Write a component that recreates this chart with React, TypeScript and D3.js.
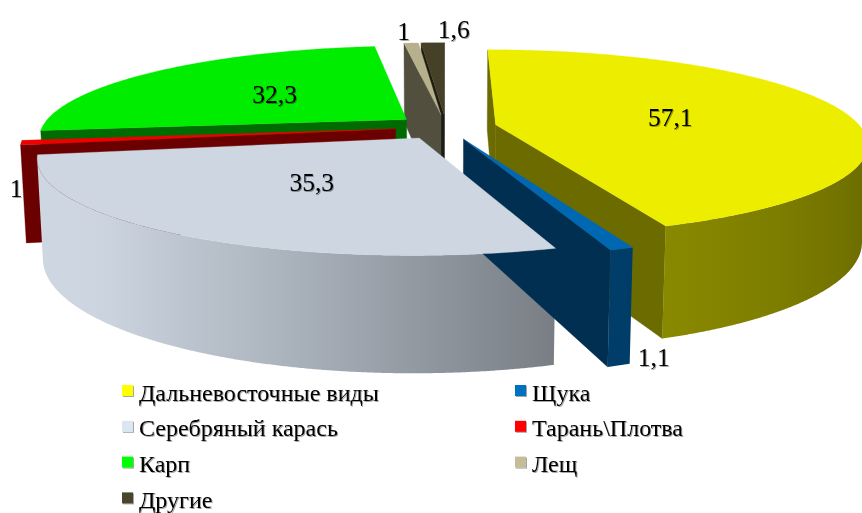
import React from "react";
import * as d3 from "d3";

// ---------- data ----------
const categories = [
  "Дальневосточные виды",
  "Щука",
  "Серебряный карась",
  "Тарань\\Плотва",
  "Карп",
  "Лещ",
  "Другие",
];
const values = [57.1, 1.1, 35.3, 1, 32.3, 1, 1.6];
const colors = ["#FFFF00", "#0070C0", "#DCE6F2", "#FF0000", "#00FF00", "#C4BD97", "#4A452A"];
const legendRows = [
  [0, 1],
  [2, 3],
  [4, 5],
  [6],
];

// ---------- layout / camera ----------
const W = 862;
const H = 513;
const CX = 446;
const CY = 127;
const FOCAL = 1847;
const DIST = 5.06;
const PHI = (14.3 * Math.PI) / 180;
const THICK = 0.271;
const EXPLODE = 0.139;
const sinP = Math.sin(PHI);
const cosP = Math.cos(PHI);
const CAM = [0, DIST * sinP, DIST * cosP];

const FONT = "'Liberation Serif', 'Times New Roman', 'DejaVu Serif', serif";

type V3 = [number, number, number];

function proj(p: V3): [number, number] {
  const [X, Y, Z] = p;
  const depth = DIST - Y * sinP - Z * cosP;
  const up = Y * cosP - Z * sinP;
  return [CX + (FOCAL * X) / depth, CY - (FOCAL * up) / depth];
}
function depthOf(p: V3) {
  return DIST - p[1] * sinP - p[2] * cosP;
}
function visible(n: V3, p: V3) {
  return n[0] * (CAM[0] - p[0]) + n[1] * (CAM[1] - p[1]) + n[2] * (CAM[2] - p[2]) > 0;
}
function shade(c: string, k: number) {
  const r = d3.rgb(c);
  return d3.rgb(Math.min(255, r.r * k), Math.min(255, r.g * k), Math.min(255, r.b * k)).formatHex();
}
function wallBrightness(theta: number) {
  const nx = Math.sin(theta);
  const nz = -Math.cos(theta);
  const d = -nx + 0.3 * nz;
  return Math.min(0.93, 0.55 + 0.15 * d + 0.25 * Math.max(d, 0));
}
const pathOf = (pts: [number, number][]) =>
  "M" + pts.map((p) => p[0].toFixed(2) + "," + p[1].toFixed(2)).join("L") + "Z";

const fmt = d3
  .formatLocale({ decimal: ",", thousands: "\u00a0", grouping: [3], currency: ["", ""] })
  .format("~g");

// label nudges for small slices (screen px)
const smallNudge: Record<number, [number, number]> = {
  1: [35, 1],
  3: [-8, 5],
  5: [-7.5, -3],
  6: [21, -5],
};

export default function App() {
  const arcs = d3
    .pie<number>()
    .sort(null)
    .value((d) => d)
    .startAngle(0)
    .endAngle(2 * Math.PI)(values);

  const slices = arcs.map((a, i) => {
    const am = (a.startAngle + a.endAngle) / 2;
    const ox = EXPLODE * Math.sin(am);
    const oz = -EXPLODE * Math.cos(am);
    const P = (r: number, th: number, Y: number): V3 => [ox + r * Math.sin(th), Y, oz - r * Math.cos(th)];
    return { i, a0: a.startAngle, a1: a.endAngle, am, P, value: values[i] };
  });

  const order = [...slices].sort(
    (s, t) => depthOf(t.P(0.5, t.am, -THICK / 2)) - depthOf(s.P(0.5, s.am, -THICK / 2))
  );

  const defs: React.ReactNode[] = [];
  const sides: React.ReactNode[] = [];
  const tops: React.ReactNode[] = [];

  order.forEach((s) => {
    const base = colors[s.i];
    const faceCol = shade(base, 0.42);
    // radial faces
    const radial = [
      { n: [-Math.cos(s.a0), 0, -Math.sin(s.a0)] as V3, ang: s.a0, key: "s" },
      { n: [Math.cos(s.a1), 0, Math.sin(s.a1)] as V3, ang: s.a1, key: "e" },
    ];
    radial.forEach((f) => {
      if (visible(f.n, s.P(0.5, f.ang, -THICK / 2))) {
        const pts = [
          proj(s.P(0, f.ang, 0)),
          proj(s.P(1, f.ang, 0)),
          proj(s.P(1, f.ang, -THICK)),
          proj(s.P(0, f.ang, -THICK)),
        ];
        sides.push(
          <path key={`r${s.i}${f.key}`} d={pathOf(pts)} fill={faceCol} stroke={faceCol} strokeWidth={0.4} />
        );
      }
    });
    // outer wall
    const steps = Math.max(4, Math.ceil((s.a1 - s.a0) / ((0.25 * Math.PI) / 180)));
    const ths = d3.range(steps + 1).map((k) => s.a0 + ((s.a1 - s.a0) * k) / steps);
    const vis = ths.filter((th) =>
      visible([Math.sin(th), 0, -Math.cos(th)], s.P(1, th, -THICK / 2))
    );
    if (vis.length > 1) {
      const topPts = vis.map((th) => proj(s.P(1, th, 0)));
      const botPts = vis.map((th) => proj(s.P(1, th, -THICK))).reverse();
      const x1 = topPts[0][0];
      const x2 = topPts[topPts.length - 1][0];
      const gid = `wall${s.i}`;
      const nStops = 12;
      const stops = d3.range(nStops + 1).map((k) => {
        const idx = Math.round(((vis.length - 1) * k) / nStops);
        const th = vis[idx];
        const x = topPts[idx][0];
        const off = Math.abs(x2 - x1) < 0.5 ? k / nStops : (x - x1) / (x2 - x1);
        return { off: Math.max(0, Math.min(1, off)), col: shade(base, wallBrightness(th)) };
      });
      defs.push(
        <linearGradient key={gid} id={gid} gradientUnits="userSpaceOnUse" x1={x1} y1={0} x2={Math.abs(x2 - x1) < 0.5 ? x1 + 1 : x2} y2={0}>
          {stops.map((st, k) => (
            <stop key={k} offset={st.off} stopColor={st.col} />
          ))}
        </linearGradient>
      );
      sides.push(
        <path key={`w${s.i}`} d={pathOf([...topPts, ...botPts])} fill={`url(#${gid})`} />
      );
    }
    // top face
    const tsteps = Math.max(2, Math.ceil((s.a1 - s.a0) / ((0.5 * Math.PI) / 180)));
    const topFace: [number, number][] = [proj(s.P(0, 0, 0))];
    for (let k = 0; k <= tsteps; k++) {
      const th = s.a0 + ((s.a1 - s.a0) * k) / tsteps;
      topFace.push(proj(s.P(1, th, 0)));
    }
    const topCol = shade(base, 0.93);
    tops.push(<path key={`t${s.i}`} d={pathOf(topFace)} fill={topCol} stroke={topCol} strokeWidth={0.3} />);
  });

  // data labels
  const LABEL_SIZE = 25.5;
  const labels = slices.map((s) => {
    const txt = fmt(s.value);
    if (s.value > 5) {
      const [x, y] = proj(s.P(0.5, s.am, 0));
      return (
        <text key={`l${s.i}`} x={x} y={y + 9} textAnchor="middle" fontFamily={FONT} fontSize={LABEL_SIZE} fill="#000">
          {txt}
        </text>
      );
    }
    const c = Math.cos(s.am);
    const Y = c > 0 ? 0 : c < -0.5 ? -THICK : -THICK / 2;
    const [x, y] = proj(s.P(1, s.am, Y));
    const nd = smallNudge[s.i] || [0, 0];
    return (
      <text key={`l${s.i}`} x={x + nd[0]} y={y + nd[1]} textAnchor="middle" fontFamily={FONT} fontSize={LABEL_SIZE} fill="#000">
        {txt}
      </text>
    );
  });

  // legend
  const colX = [122, 515];
  const rowY = d3.scaleLinear().domain([0, 1]).range([400.5, 436.3]);
  const legend = legendRows.flatMap((row, r) =>
    row.map((ci, c) => (
      <g key={`lg${ci}`}>
        <rect x={colX[c]} y={rowY(r) - 15.5} width={11} height={11} fill={colors[ci]} />
        <text x={colX[c] + 17} y={rowY(r)} fontFamily={FONT} fontSize={24} fill="#000">
          {categories[ci]}
        </text>
      </g>
    ))
  );

  return (
    <svg
      width={W}
      height={H}
      viewBox={`0 0 ${W} ${H}`}
      style={{ position: "absolute", left: 0, top: 0, overflow: "hidden", background: "#fff" }}
    >
      <defs>
        {defs}
        <filter id="txtShadow" x="-10%" y="-20%" width="120%" height="150%">
          <feDropShadow dx={1} dy={1} stdDeviation={0.7} floodColor="#000" floodOpacity={0.35} />
        </filter>
      </defs>
      <rect width={W} height={H} fill="#fff" />
      <g>{sides}</g>
      <g>{tops}</g>
      <g filter="url(#txtShadow)">{labels}</g>
      <g filter="url(#txtShadow)">{legend}</g>
    </svg>
  );
}
